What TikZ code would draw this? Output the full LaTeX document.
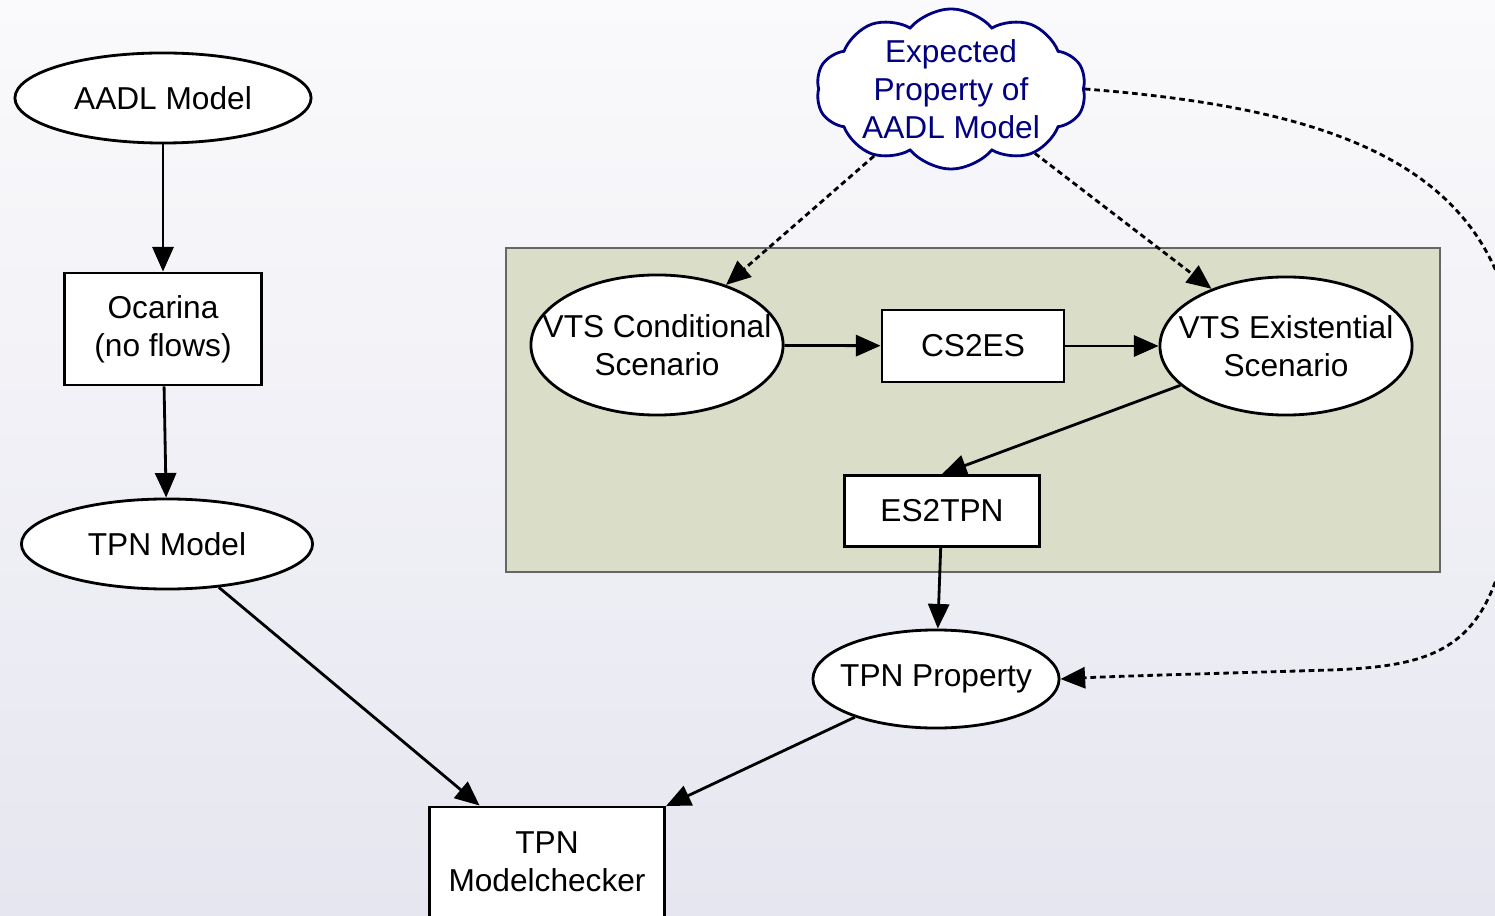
\documentclass[tikz,border=0pt]{standalone}
\usepackage{fontspec}
\setmainfont{Liberation Sans}
\usetikzlibrary{shapes, arrows.meta, positioning}
\definecolor{bgtop}{RGB}{250,250,252}
\definecolor{bgbot}{RGB}{230,230,240}
\definecolor{esgreen}{RGB}{218,222,200}
\definecolor{cloudblue}{RGB}{0,0,128}
\tikzset{
  ell/.style={ellipse, draw, fill=white, line width=0.8pt, inner xsep=-20pt, inner ysep=-8pt, align=center},
  box/.style={rectangle, draw, fill=white, line width=0.8pt, inner sep=0pt, align=center},
  arr/.style={-{Triangle[length=7pt,width=6pt]}, line width=0.8pt},
  dotarr/.style={arr, dash pattern=on 1.6pt off 1.1pt},
}
\begin{document}
\begin{tikzpicture}[x=0.01cm, y=-0.01cm, font=\fontsize{9}{10.8}\selectfont]
    \shade[top color=bgtop, bottom color=bgbot] (0,0) rectangle (1495,916);
    \useasboundingbox (0,0) rectangle (1495,916);
    \node[draw=black!60, fill=esgreen, minimum width=9.34cm, minimum height=3.24cm, inner sep=0pt, line width=0.6pt] (esgrp) at (973,410) {};

    \node[ell, minimum width=2.96cm, minimum height=0.9cm] (aadl) at (163,98) {AADL Model};
    \node[box, minimum width=1.97cm, minimum height=1.12cm] (ocarina) at (163,329) {Ocarina\\(no flows)};
    \node[ell, minimum width=2.91cm, minimum height=0.9cm] (tpnm) at (167,544) {TPN Model};
    \node[box, minimum width=2.35cm, minimum height=1.1cm] (mc) at (547,862) {TPN\\Modelchecker};
    \node[ell, minimum width=2.52cm, minimum height=1.4cm] (vcs) at (657,345) {VTS Conditional\\Scenario};
    \node[box, minimum width=1.82cm, minimum height=0.72cm] (cs2es) at (973,346) {CS2ES};
    \node[ell, minimum width=2.52cm, minimum height=1.38cm] (ves) at (1286,346) {VTS Existential\\Scenario};
    \node[box, minimum width=1.95cm, minimum height=0.71cm] (es2tpn) at (942,511) {ES2TPN};
    \node[ell, minimum width=2.46cm, minimum height=0.98cm] (tpnp) at (936,679) {TPN Property};
    \node[cloud, cloud puffs=10, cloud puff arc=100, cloud ignores aspect, draw=cloudblue, text=cloudblue, fill=white, line width=0.8pt,
          inner sep=-15pt, align=center, minimum width=2.7cm, minimum height=1.6cm] (expprop) at (951,89) {Expected\\Property of\\AADL Model};

        \draw[arr] (aadl) -- (ocarina);
        \draw[arr] (ocarina) -- (tpnm);
        \draw[arr] (tpnm) -- (mc);
        \draw[arr] (tpnp) -- (mc);
    \draw[arr] (vcs) -- (cs2es);
    \draw[arr] (cs2es) -- (ves);
    \draw[arr] (ves) -- (es2tpn.north);
    \draw[arr] (es2tpn) -- (tpnp);
        \draw[dotarr] (expprop.east) .. controls (1355,110) and (1518,175) .. (1518,390)
            .. controls (1516,640) and (1465,665) .. (1330,670)
            .. controls (1200,674) and (1120,676) .. (tpnp.east);
        \draw[dotarr] (expprop) -- (vcs);
        \draw[dotarr] (expprop) -- (ves);
\end{tikzpicture}
\end{document}
